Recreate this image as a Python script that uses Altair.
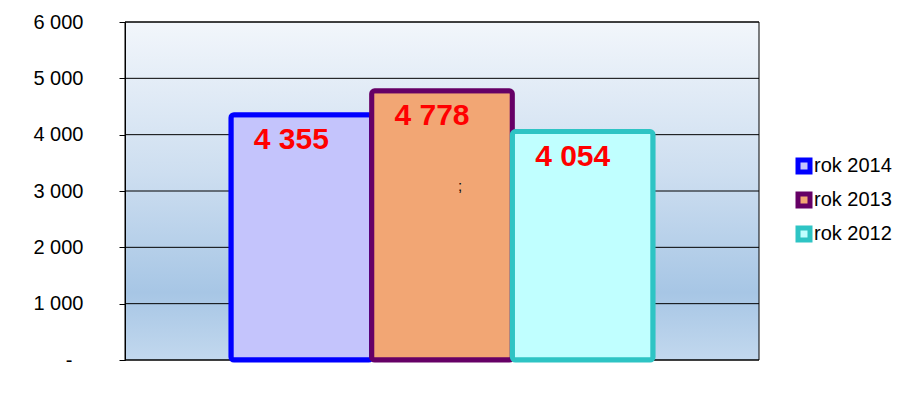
import altair as alt
import pandas as pd

# Annual totals shown as three adjacent bars
years = ["rok 2014", "rok 2013", "rok 2012"]
values = [4355, 4778, 4054]
fills = ["#C4C4FC", "#F2A674", "#C0FFFF"]
strokes = ["#0000FF", "#660066", "#2EC4C4"]
y_ticks = [0, 1000, 2000, 3000, 4000, 5000, 6000]

W, H = 634, 338

df = pd.DataFrame({"rok": years, "wartosc": values})
df["etykieta"] = df["wartosc"].map(lambda v: f"{v:,}".replace(",", " "))
grid_df = pd.DataFrame({"wartosc": y_ticks})

font = "Liberation Sans"

y_scale = alt.Scale(domain=[0, 6000], nice=False)
x_enc = alt.X(
    "rok:N",
    sort=years,
    axis=None,
    scale=alt.Scale(paddingInner=0, paddingOuter=0.753),
)
y_axis = alt.Axis(
    values=y_ticks,
    title=None,
    grid=False,
    zindex=1,
    domainColor="#000000",
    tickColor="#000000",
    tickSize=6,
    labelPadding={"condition": {"test": "datum.value == 0", "value": 47}, "value": 36},
    labelFont=font,
    labelFontSize=20,
    labelColor="#000000",
    labelExpr="datum.value == 0 ? '-' : replace(format(datum.value, ','), ',', ' ')",
)
y_enc = alt.Y("wartosc:Q", scale=y_scale, axis=y_axis)

# Plot-area backdrop with vertical gradient and black frame
backdrop = alt.Chart(pd.DataFrame({"k": [0]})).mark_rect(
    fill=alt.LinearGradient(
        gradient="linear",
        x1=0, y1=0, x2=0, y2=1,
        stops=[
            alt.GradientStop(offset=0, color="#F2F6FB"),
            alt.GradientStop(offset=0.45, color="#CDDEF0"),
            alt.GradientStop(offset=0.8, color="#A7C6E5"),
            alt.GradientStop(offset=1, color="#C2D8EE"),
        ],
    ),
    stroke="#000000",
    strokeWidth=1,
).encode(x=alt.value(0), x2=alt.value(W), y=alt.value(0), y2=alt.value(H))

gridlines = alt.Chart(grid_df).mark_rule(color="#000000", strokeWidth=1).encode(
    y=y_enc
)

bars = alt.Chart(df).mark_bar(strokeWidth=5, cornerRadius=3).encode(
    x=x_enc,
    y=y_enc,
    fill=alt.Fill(
        "rok:N",
        sort=years,
        scale=alt.Scale(domain=years, range=fills),
        legend=alt.Legend(
            title=None,
            orient="none",
            legendX=669,
            legendY=134,
            padding=0,
            symbolType="square",
            symbolSize=144,
            symbolStrokeWidth=5,
            labelFont=font,
            labelFontSize=20,
            labelColor="#000000",
            labelOffset=0,
            rowPadding=2,
        ),
    ),
    stroke=alt.Stroke(
        "rok:N",
        sort=years,
        scale=alt.Scale(domain=years, range=strokes),
    ),
)

labels = alt.Chart(df).mark_text(
    font=font,
    fontSize=30,
    fontWeight="bold",
    color="#FF0000",
    align="center",
    baseline="alphabetic",
    dx=-10,
    dy=34,
).encode(x=x_enc, y=y_enc, text="etykieta:N")

semicolon = alt.Chart(pd.DataFrame({"rok": ["rok 2013"], "wartosc": [3000]})).mark_text(
    text=";",
    font=font,
    fontSize=15,
    color="#000000",
    align="center",
    baseline="alphabetic",
    dx=18,
).encode(x=x_enc, y=y_enc)

chart = (
    alt.layer(backdrop, gridlines, bars, labels, semicolon)
    .properties(
        width=W,
        height=H,
        autosize=alt.AutoSizeParams(type="none"),
        padding={"left": 125, "top": 22, "right": 157, "bottom": 37},
        background="#FFFFFF",
    )
    .configure_view(stroke=None)
)

chart.save("out.html", embed_options={"renderer": "svg", "actions": False})
